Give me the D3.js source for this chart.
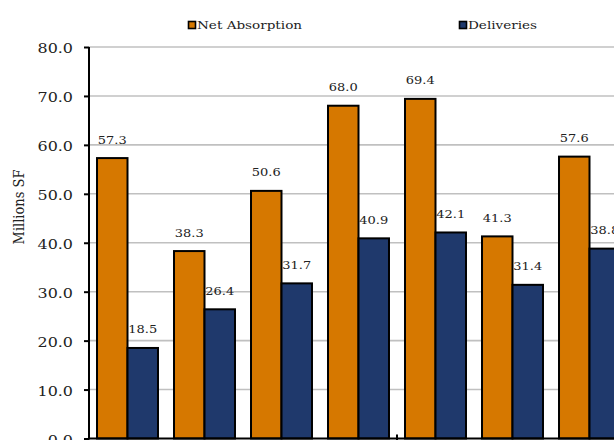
<!DOCTYPE html>
<html>
<head>
<meta charset="utf-8">
<script src="https://cdn.jsdelivr.net/npm/d3@7/dist/d3.min.js"></script>
<style>
  html, body { margin: 0; padding: 0; background: #ffffff; }
  svg { display: block; }
</style>
</head>
<body>
<div id="chart"></div>
<script>
// Market activity per period, in millions of square feet
const categories = ["P1", "P2", "P3", "P4", "P5", "P6", "P7"];
const netAbsorption = [57.3, 38.3, 50.6, 68.0, 69.4, 41.3, 57.6];
const deliveries = [18.5, 26.4, 31.7, 40.9, 42.1, 31.4, 38.8];
const seriesNames = ["Net Absorption", "Deliveries"];
const seriesColors = ["#d67800", "#1f396c"];
const yTicks = [0, 10, 20, 30, 40, 50, 60, 70, 80];
const yTitle = "Millions SF";

const W = 614, H = 440;
const FONT = "'DejaVu Serif', serif";
const STRETCH = 1.18;   // wide lettering used throughout the chart

const svg = d3.select("#chart").append("svg")
  .attr("width", W).attr("height", H);

const x0 = 89, step = 77;
const x = d3.scaleBand()
  .domain(categories)
  .range([x0, x0 + step * categories.length])
  .paddingInner(0.208)
  .paddingOuter(0.104);
const xs = d3.scaleBand().domain(seriesNames).range([0, x.bandwidth()]);
const y = d3.scaleLinear().domain([0, 80]).range([438.5, 47]);

const rows = categories.map((c, i) => ({
  cat: c,
  vals: [netAbsorption[i], deliveries[i]]
}));

// helper: text drawn with horizontal stretch
function stretchedText(sel, fx, fy) {
  return sel.attr("transform", (d, i) => `translate(${fx(d, i)},${fy(d, i)}) scale(${STRETCH},1)`);
}

// gridlines
svg.append("g").selectAll("line")
  .data(yTicks.filter(t => t > 0))
  .join("line")
  .attr("x1", x0).attr("x2", W)
  .attr("y1", d => y(d)).attr("y2", d => y(d))
  .attr("stroke", "#c0c0c0").attr("stroke-width", 1.6);

// value labels (drawn beneath the bars)
const groups = svg.append("g").selectAll("g")
  .data(rows).join("g")
  .attr("transform", d => `translate(${x(d.cat)},0)`);

groups.selectAll("text")
  .data(d => d.vals.map((v, k) => ({ v, k })))
  .join("text")
  .call(stretchedText, d => xs(seriesNames[d.k]) + xs.bandwidth() / 2, d => y(d.v) - 14.5)
  .attr("text-anchor", "middle")
  .attr("font-family", FONT).attr("font-size", 11)
  .attr("fill", "#222")
  .text(d => d3.format(".1f")(d.v));

// bars
groups.selectAll("rect")
  .data(d => d.vals.map((v, k) => ({ v, k })))
  .join("rect")
  .attr("x", d => xs(seriesNames[d.k]))
  .attr("width", xs.bandwidth())
  .attr("y", d => y(d.v))
  .attr("height", d => y(0) - y(d.v))
  .attr("fill", d => seriesColors[d.k])
  .attr("stroke", "#000").attr("stroke-width", 2);

// y axis
const yAxis = svg.append("g").attr("transform", `translate(${x0},0)`)
  .call(d3.axisLeft(y).tickValues(yTicks).tickSize(5).tickFormat(d3.format(".1f")));
yAxis.select(".domain").attr("stroke", "#000").attr("stroke-width", 2)
  .attr("d", `M0,${y(0) + 1}V${y(80)}`);
yAxis.selectAll(".tick line").attr("stroke", "#000").attr("stroke-width", 2);
yAxis.selectAll(".tick text")
  .attr("x", null).attr("dy", null)
  .attr("transform", `translate(-16,5.5) scale(${STRETCH},1)`)
  .attr("font-family", FONT).attr("font-size", 13.5)
  .attr("fill", "#222");

// x axis baseline and category-interval tick
svg.append("line")
  .attr("x1", x0).attr("x2", W)
  .attr("y1", y(0)).attr("y2", y(0))
  .attr("stroke", "#000").attr("stroke-width", 2);
const tickEvery = 4;
svg.append("g").selectAll("line")
  .data(categories.filter((c, i) => i > 0 && i % tickEvery === 0))
  .join("line")
  .attr("x1", d => x(d) - x.step() * x.paddingInner() / 2)
  .attr("x2", d => x(d) - x.step() * x.paddingInner() / 2)
  .attr("y1", y(0) - 4).attr("y2", y(0) + 6)
  .attr("stroke", "#000").attr("stroke-width", 2);

// y axis title
svg.append("text")
  .attr("transform", `translate(24,207) rotate(-90) scale(1,${STRETCH})`)
  .attr("text-anchor", "middle")
  .attr("font-family", FONT).attr("font-size", 13)
  .attr("fill", "#222")
  .text(yTitle);

// legend
const legendX = [188, 459];
const legend = svg.append("g").selectAll("g")
  .data(seriesNames).join("g")
  .attr("transform", (d, i) => `translate(${legendX[i]},25)`);
legend.append("rect")
  .attr("x", 0.5).attr("y", -3.5).attr("width", 7).attr("height", 7)
  .attr("fill", (d, i) => seriesColors[i])
  .attr("stroke", "#000").attr("stroke-width", 1.6);
legend.append("text")
  .attr("transform", `translate(9,4) scale(${STRETCH},1)`)
  .attr("font-family", FONT).attr("font-size", 11.5)
  .attr("fill", "#222")
  .text(d => d);
</script>
</body>
</html>
